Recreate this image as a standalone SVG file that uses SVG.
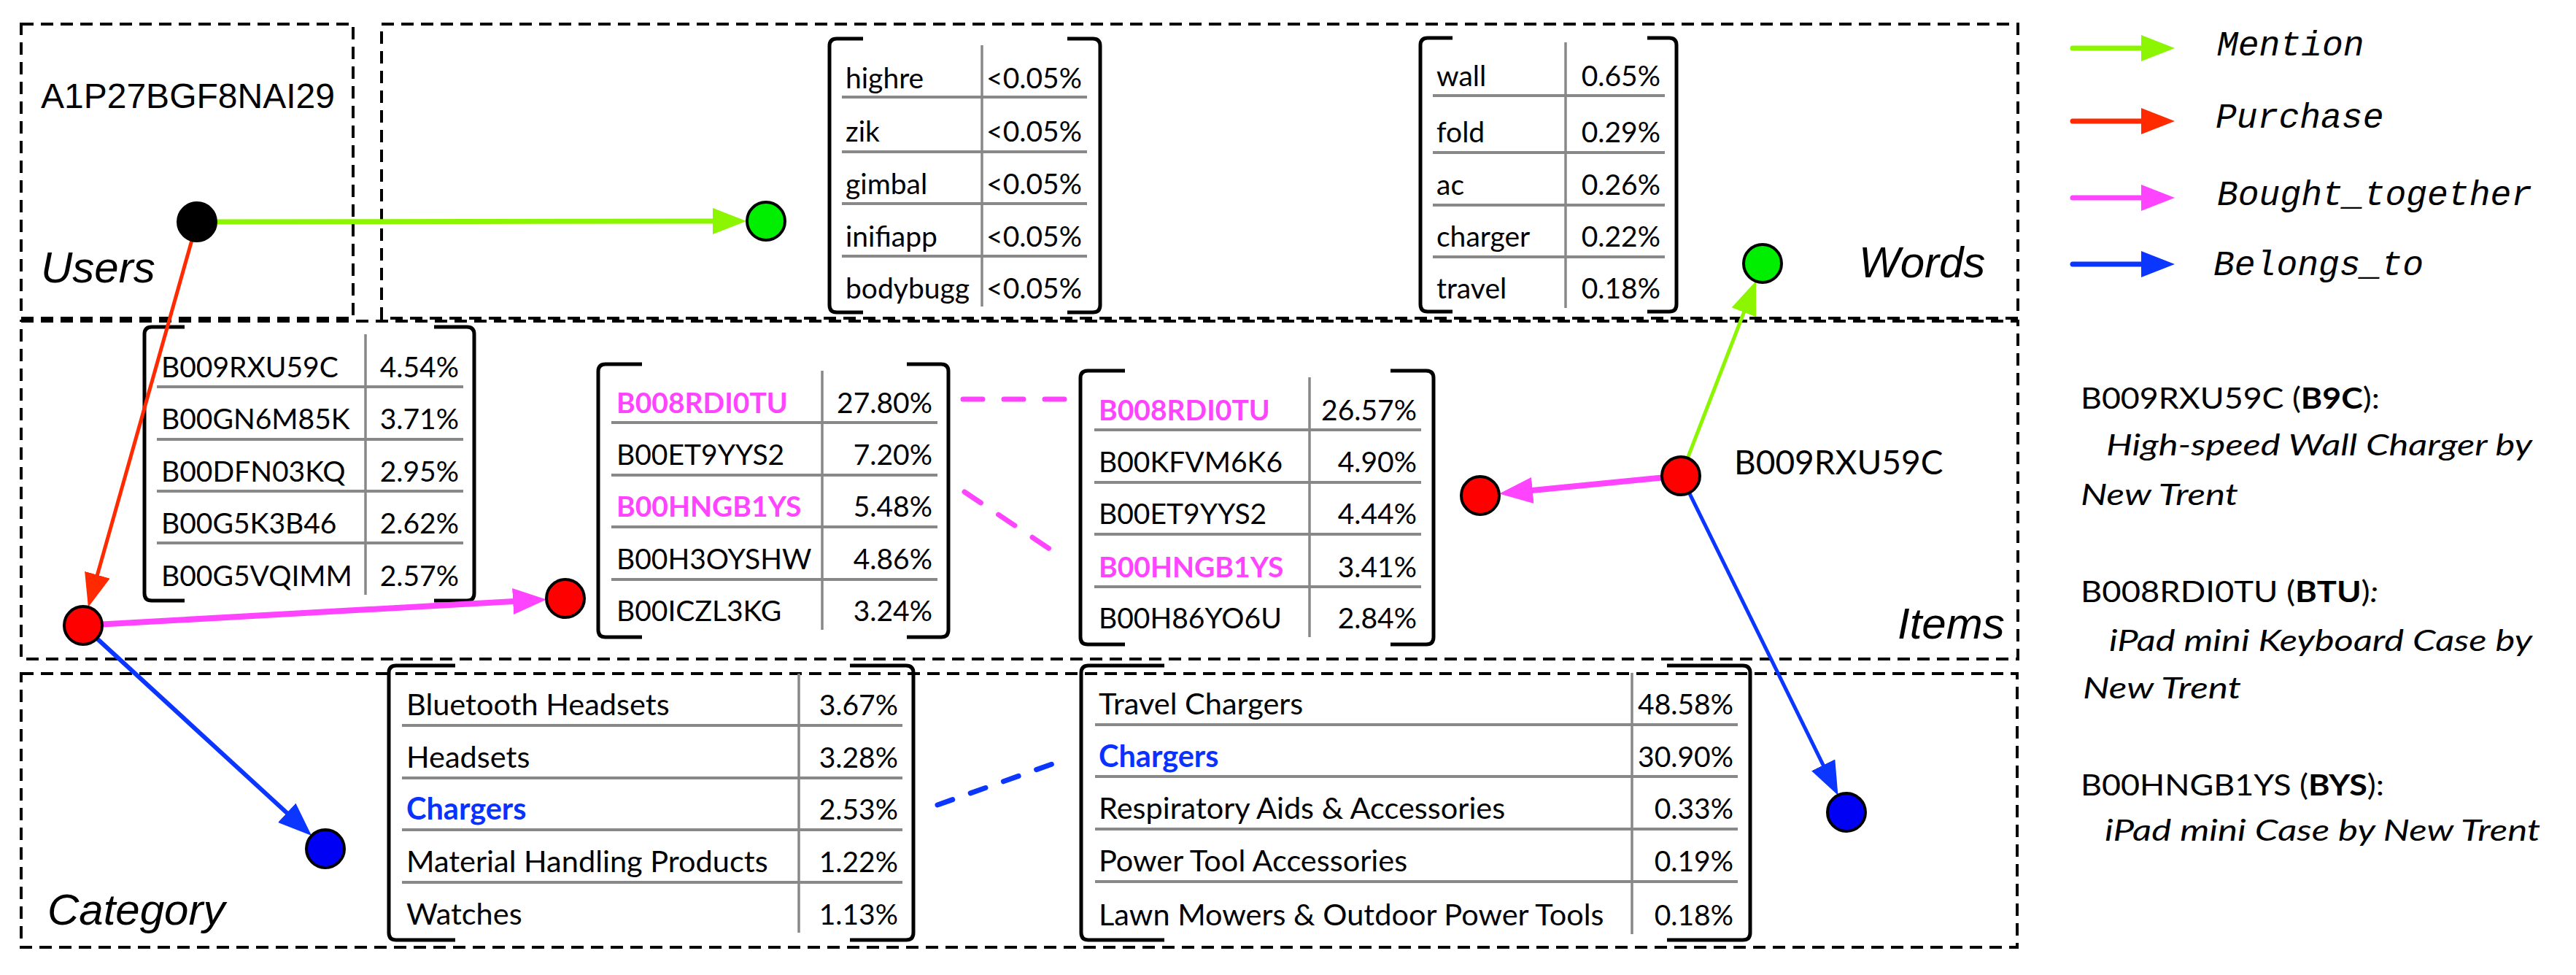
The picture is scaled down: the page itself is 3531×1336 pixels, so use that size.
<svg xmlns="http://www.w3.org/2000/svg" width="3531" height="1336" viewBox="0 0 3531 1336">
<style>
.box{fill:none;stroke:#000;stroke-width:4;stroke-dasharray:17 10}
.brk{fill:none;stroke:#000;stroke-width:5;stroke-linejoin:round}
.sep{stroke:#888;stroke-width:4}
.div{stroke:#888;stroke-width:3.5}
.t{font-family:Lato,'Noto Sans',sans-serif;font-size:39px;fill:#000}
.c{font-size:41.5px}
.p{font-family:Lato,'Noto Sans',sans-serif;font-size:39px;fill:#000;text-anchor:end}
.pk{fill:#ff44ff;font-weight:bold}
.bl{fill:#0a32ff;font-weight:bold}
.lab{font-family:'Liberation Sans',Arial,sans-serif;font-style:italic;font-size:60px;fill:#000}
.leg{font-family:'Liberation Mono','Courier New',monospace;font-style:italic;font-size:48px;fill:#000}
.desc{font-family:Lato,'Noto Sans',sans-serif;font-size:40px;fill:#000}
.it{font-style:italic}
.node{stroke:#000;stroke-width:4}
.e{fill:none}
</style>
<defs>
<marker id="ag" markerUnits="userSpaceOnUse" markerWidth="46" markerHeight="36" refX="6" refY="18" orient="auto"><path d="M0,0 L46,18 L0,36 z" fill="#8cf500"/></marker>
<marker id="ar" markerUnits="userSpaceOnUse" markerWidth="46" markerHeight="36" refX="6" refY="18" orient="auto"><path d="M0,0 L46,18 L0,36 z" fill="#ff2a00"/></marker>
<marker id="ap" markerUnits="userSpaceOnUse" markerWidth="46" markerHeight="36" refX="6" refY="18" orient="auto"><path d="M0,0 L46,18 L0,36 z" fill="#ff44ff"/></marker>
<marker id="ab" markerUnits="userSpaceOnUse" markerWidth="46" markerHeight="36" refX="6" refY="18" orient="auto"><path d="M0,0 L46,18 L0,36 z" fill="#0a36ff"/></marker>
</defs>
<rect width="3531" height="1336" fill="#fff"/>

<!-- region boxes -->
<g id="regions">
<rect class="box" x="29" y="33" width="455" height="403"/>
<rect class="box" x="523" y="33" width="2243" height="403"/>
<rect class="box" x="29" y="440" width="2737" height="463"/>
<rect class="box" x="29" y="923" width="2736" height="375"/>
<text class="lab" x="56" y="387">Users</text>
<text class="lab" x="2548" y="380">Words</text>
<text class="lab" x="2601" y="875">Items</text>
<text class="lab" x="65" y="1267">Category</text>
<text x="56" y="148" font-family="'Liberation Sans',Arial,sans-serif" font-size="48">A1P27BGF8NAI29</text>
</g>

<!-- Words table 1 -->
<g id="table-words-1">
<path class="brk" d="M1183,53 H1147 Q1137,53 1137,63 V418 Q1137,428 1147,428 H1183"/>
<path class="brk" d="M1463,53 H1498 Q1508,53 1508,63 V418 Q1508,428 1498,428 H1463"/>
<line class="div" x1="1346" y1="62" x2="1346" y2="420"/>
<line class="sep" x1="1154" y1="133" x2="1490" y2="133"/>
<line class="sep" x1="1154" y1="208" x2="1490" y2="208"/>
<line class="sep" x1="1154" y1="279" x2="1490" y2="279"/>
<line class="sep" x1="1154" y1="351" x2="1490" y2="351"/>
<text class="t" x="1159" y="121">highre</text><text class="p" x="1483" y="121">&lt;0.05%</text>
<text class="t" x="1159" y="194">zik</text><text class="p" x="1483" y="194">&lt;0.05%</text>
<text class="t" x="1159" y="266">gimbal</text><text class="p" x="1483" y="266">&lt;0.05%</text>
<text class="t" x="1159" y="338">inifiapp</text><text class="p" x="1483" y="338">&lt;0.05%</text>
<text class="t" x="1159" y="409">bodybugg</text><text class="p" x="1483" y="409">&lt;0.05%</text>
</g>

<!-- Words table 2 -->
<g id="table-words-2">
<path class="brk" d="M1991,52 H1957 Q1947,52 1947,62 V417 Q1947,427 1957,427 H1991"/>
<path class="brk" d="M2258,52 H2288 Q2298,52 2298,62 V417 Q2298,427 2288,427 H2258"/>
<line class="div" x1="2146" y1="58" x2="2146" y2="422"/>
<line class="sep" x1="1964" y1="131" x2="2282" y2="131"/>
<line class="sep" x1="1964" y1="209" x2="2282" y2="209"/>
<line class="sep" x1="1964" y1="281" x2="2282" y2="281"/>
<line class="sep" x1="1964" y1="352" x2="2282" y2="352"/>
<text class="t" x="1969" y="118">wall</text><text class="p" x="2276" y="118">0.65%</text>
<text class="t" x="1969" y="195">fold</text><text class="p" x="2276" y="195">0.29%</text>
<text class="t" x="1969" y="267">ac</text><text class="p" x="2276" y="267">0.26%</text>
<text class="t" x="1969" y="338">charger</text><text class="p" x="2276" y="338">0.22%</text>
<text class="t" x="1969" y="409">travel</text><text class="p" x="2276" y="409">0.18%</text>
</g>

<!-- Items table 0 -->
<g id="table-items-0">
<path class="brk" d="M253,448 H208 Q198,448 198,458 V813 Q198,823 208,823 H253"/>
<path class="brk" d="M595,448 H640 Q650,448 650,458 V813 Q650,823 640,823 H595"/>
<line class="div" x1="501" y1="458" x2="501" y2="815"/>
<line class="sep" x1="215" y1="530" x2="635" y2="530"/>
<line class="sep" x1="215" y1="602" x2="635" y2="602"/>
<line class="sep" x1="215" y1="673" x2="635" y2="673"/>
<line class="sep" x1="215" y1="744" x2="635" y2="744"/>
<text class="t" x="221" y="517">B009RXU59C</text><text class="p" x="629" y="517">4.54%</text>
<text class="t" x="221" y="588">B00GN6M85K</text><text class="p" x="629" y="588">3.71%</text>
<text class="t" x="221" y="660">B00DFN03KQ</text><text class="p" x="629" y="660">2.95%</text>
<text class="t" x="221" y="731">B00G5K3B46</text><text class="p" x="629" y="731">2.62%</text>
<text class="t" x="221" y="803">B00G5VQIMM</text><text class="p" x="629" y="803">2.57%</text>
</g>

<!-- Items table 1 -->
<g id="table-items-1">
<path class="brk" d="M880,499 H830 Q820,499 820,509 V863 Q820,873 830,873 H880"/>
<path class="brk" d="M1243,499 H1290 Q1300,499 1300,509 V863 Q1300,873 1290,873 H1243"/>
<line class="div" x1="1127" y1="508" x2="1127" y2="863"/>
<line class="sep" x1="838" y1="579" x2="1285" y2="579"/>
<line class="sep" x1="838" y1="651" x2="1285" y2="651"/>
<line class="sep" x1="838" y1="722" x2="1285" y2="722"/>
<line class="sep" x1="838" y1="794" x2="1285" y2="794"/>
<text class="t pk" x="845" y="566">B008RDI0TU</text><text class="p" x="1278" y="566">27.80%</text>
<text class="t" x="845" y="637">B00ET9YYS2</text><text class="p" x="1278" y="637">7.20%</text>
<text class="t pk" x="845" y="708">B00HNGB1YS</text><text class="p" x="1278" y="708">5.48%</text>
<text class="t" x="845" y="780">B00H3OYSHW</text><text class="p" x="1278" y="780">4.86%</text>
<text class="t" x="845" y="851">B00ICZL3KG</text><text class="p" x="1278" y="851">3.24%</text>
</g>

<!-- Items table 2 -->
<g id="table-items-2">
<path class="brk" d="M1542,508 H1491 Q1481,508 1481,518 V873 Q1481,883 1491,883 H1542"/>
<path class="brk" d="M1906,508 H1955 Q1965,508 1965,518 V873 Q1965,883 1955,883 H1906"/>
<line class="div" x1="1795" y1="517" x2="1795" y2="873"/>
<line class="sep" x1="1500" y1="589" x2="1948" y2="589"/>
<line class="sep" x1="1500" y1="661" x2="1948" y2="661"/>
<line class="sep" x1="1500" y1="732" x2="1948" y2="732"/>
<line class="sep" x1="1500" y1="804" x2="1948" y2="804"/>
<text class="t pk" x="1506" y="576">B008RDI0TU</text><text class="p" x="1942" y="576">26.57%</text>
<text class="t" x="1506" y="647">B00KFVM6K6</text><text class="p" x="1942" y="647">4.90%</text>
<text class="t" x="1506" y="718">B00ET9YYS2</text><text class="p" x="1942" y="718">4.44%</text>
<text class="t pk" x="1506" y="791">B00HNGB1YS</text><text class="p" x="1942" y="791">3.41%</text>
<text class="t" x="1506" y="861">B00H86YO6U</text><text class="p" x="1942" y="861">2.84%</text>
</g>

<!-- Category table 1 -->
<g id="table-category-1">
<path class="brk" d="M624,912 H543 Q533,912 533,922 V1278 Q533,1288 543,1288 H624"/>
<path class="brk" d="M1165,912 H1242 Q1252,912 1252,922 V1278 Q1252,1288 1242,1288 H1165"/>
<line class="div" x1="1095" y1="923" x2="1095" y2="1278"/>
<line class="sep" x1="551" y1="994" x2="1237" y2="994"/>
<line class="sep" x1="551" y1="1066" x2="1237" y2="1066"/>
<line class="sep" x1="551" y1="1137" x2="1237" y2="1137"/>
<line class="sep" x1="551" y1="1209" x2="1237" y2="1209"/>
<text class="t c" x="557" y="980">Bluetooth Headsets</text><text class="p" x="1231" y="980">3.67%</text>
<text class="t c" x="557" y="1052">Headsets</text><text class="p" x="1231" y="1052">3.28%</text>
<text class="t c bl" x="557" y="1123">Chargers</text><text class="p" x="1231" y="1123">2.53%</text>
<text class="t c" x="557" y="1195">Material Handling Products</text><text class="p" x="1231" y="1195">1.22%</text>
<text class="t c" x="557" y="1267">Watches</text><text class="p" x="1231" y="1267">1.13%</text>
</g>

<!-- Category table 2 -->
<g id="table-category-2">
<path class="brk" d="M1596,912 H1492 Q1482,912 1482,922 V1278 Q1482,1288 1492,1288 H1596"/>
<path class="brk" d="M2285,912 H2389 Q2399,912 2399,922 V1278 Q2399,1288 2389,1288 H2285"/>
<line class="div" x1="2237" y1="922" x2="2237" y2="1280"/>
<line class="sep" x1="1501" y1="993" x2="2382" y2="993"/>
<line class="sep" x1="1501" y1="1064" x2="2382" y2="1064"/>
<line class="sep" x1="1501" y1="1136" x2="2382" y2="1136"/>
<line class="sep" x1="1501" y1="1208" x2="2382" y2="1208"/>
<text class="t c" x="1506" y="979">Travel Chargers</text><text class="p" x="2376" y="979">48.58%</text>
<text class="t c bl" x="1506" y="1051">Chargers</text><text class="p" x="2376" y="1051">30.90%</text>
<text class="t c" x="1506" y="1122">Respiratory Aids &amp; Accessories</text><text class="p" x="2376" y="1122">0.33%</text>
<text class="t c" x="1506" y="1194">Power Tool Accessories</text><text class="p" x="2376" y="1194">0.19%</text>
<text class="t c" x="1506" y="1268">Lawn Mowers &amp; Outdoor Power Tools</text><text class="p" x="2376" y="1268">0.18%</text>
</g>

<!-- connectors -->
<g id="connectors" stroke-linecap="butt">
<path class="e" d="M296,304 L983,303" stroke="#8cf500" stroke-width="7" marker-end="url(#ag)"/>
<path class="e" d="M263,329 L131.8,793.5" stroke="#ff2a00" stroke-width="5" marker-end="url(#ar)"/>
<path class="e" d="M140,855.5 L709.1,823.7" stroke="#ff44ff" stroke-width="8" marker-end="url(#ap)"/>
<path class="e" d="M133,875 L397.6,1117.9" stroke="#0a36ff" stroke-width="6" marker-end="url(#ab)"/>
<path class="e" d="M2278,654.5 L2094.8,672.6" stroke="#ff44ff" stroke-width="8" marker-end="url(#ap)"/>
<path class="e" d="M2313.3,627.7 L2392.6,422.3" stroke="#8cf500" stroke-width="5" marker-end="url(#ag)"/>
<path class="e" d="M2315.5,675.3 L2501.8,1053.8" stroke="#0a36ff" stroke-width="5" marker-end="url(#ab)"/>
<path class="e" d="M1320,547 L1463,547" stroke="#ff44ff" stroke-width="7" stroke-linecap="round" stroke-dasharray="27 29"/>
<path class="e" d="M1322,674 L1440,753" stroke="#ff44ff" stroke-width="7" stroke-linecap="round" stroke-dasharray="27 29"/>
<path class="e" d="M1285,1103 L1459,1041" stroke="#0a36ff" stroke-width="7" stroke-linecap="round" stroke-dasharray="22 26"/>
</g>

<!-- nodes -->
<g id="node-user"><circle class="node" cx="270" cy="304" r="26" fill="#000"/></g>
<g id="node-word-1"><circle class="node" cx="1050" cy="303" r="26" fill="#00ee00"/></g>
<g id="node-word-2"><circle class="node" cx="2416" cy="361" r="26" fill="#00ee00"/></g>
<g id="node-item-1"><circle class="node" cx="114" cy="857" r="26" fill="#ff0000"/></g>
<g id="node-item-2"><circle class="node" cx="775" cy="820" r="26" fill="#ff0000"/></g>
<g id="node-item-3"><circle class="node" cx="2304" cy="652" r="26" fill="#ff0000"/>
<text x="2377" y="650" font-family="Lato,'Noto Sans',sans-serif" font-size="46">B009RXU59C</text></g>
<g id="node-item-4"><circle class="node" cx="2029" cy="679" r="26" fill="#ff0000"/></g>
<g id="node-cat-1"><circle class="node" cx="446" cy="1163" r="26" fill="#0000f5"/></g>
<g id="node-cat-2"><circle class="node" cx="2531" cy="1113" r="26" fill="#0000f5"/></g>

<!-- legend -->
<g id="legend" stroke-linecap="round">
<path class="e" d="M2841,66 L2941,66" stroke="#8cf500" stroke-width="7" marker-end="url(#ag)"/>
<path class="e" d="M2841,166 L2941,166" stroke="#ff2a00" stroke-width="7" marker-end="url(#ar)"/>
<path class="e" d="M2841,271 L2941,271" stroke="#ff44ff" stroke-width="7" marker-end="url(#ap)"/>
<path class="e" d="M2841,362 L2941,362" stroke="#0a36ff" stroke-width="7" marker-end="url(#ab)"/>
<text class="leg" x="3039" y="76">Mention</text>
<text class="leg" x="3037" y="175">Purchase</text>
<text class="leg" x="3039" y="281">Bought_together</text>
<text class="leg" x="3034" y="377">Belongs_to</text>
</g>

<!-- descriptions -->
<g id="descriptions">
<text class="desc" x="2852" y="560" textLength="410" lengthAdjust="spacingAndGlyphs">B009RXU59C (<tspan font-weight="bold">B9C</tspan>):</text>
<text class="desc it" x="2887" y="624" textLength="584" lengthAdjust="spacingAndGlyphs">High-speed Wall Charger by</text>
<text class="desc it" x="2852" y="692" textLength="216" lengthAdjust="spacingAndGlyphs">New Trent</text>
<text class="desc" x="2852" y="825" textLength="408" lengthAdjust="spacingAndGlyphs">B008RDI0TU (<tspan font-weight="bold">BTU</tspan>)<tspan font-style="italic">:</tspan></text>
<text class="desc it" x="2891" y="892" textLength="580" lengthAdjust="spacingAndGlyphs">iPad mini Keyboard Case by</text>
<text class="desc it" x="2855" y="957" textLength="217" lengthAdjust="spacingAndGlyphs">New Trent</text>
<text class="desc" x="2852" y="1090" textLength="416" lengthAdjust="spacingAndGlyphs">B00HNGB1YS (<tspan font-weight="bold">BYS</tspan>):</text>
<text class="desc it" x="2885" y="1152" textLength="597" lengthAdjust="spacingAndGlyphs">iPad mini Case by New Trent</text>
</g>
</svg>
